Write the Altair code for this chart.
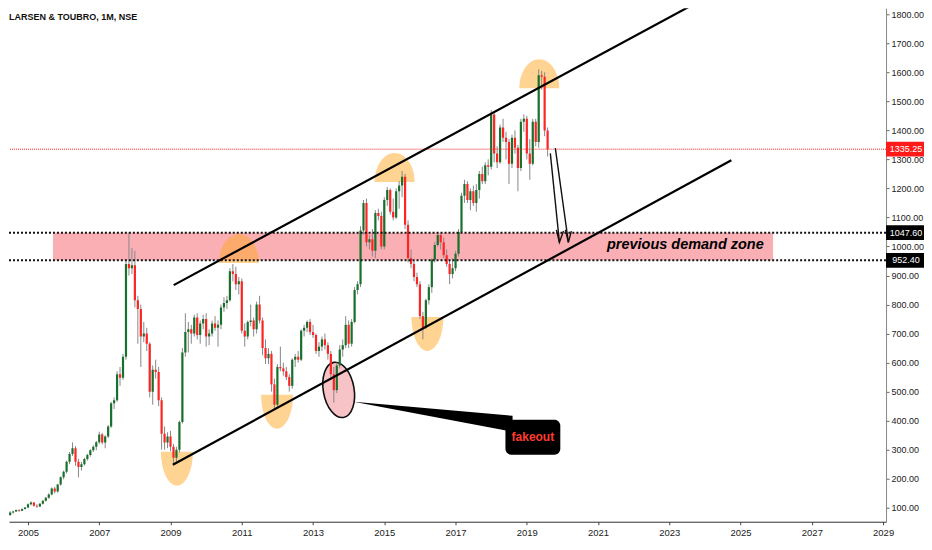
import altair as alt
import pandas as pd
import numpy as np

TITLE = "LARSEN & TOUBRO, 1M, NSE"
FONT = "Liberation Sans"

# Monthly candles, Jun 2004 .. Aug 2019
opens = [
    45, 75, 84, 87, 92, 90, 96,
    101, 112, 118, 107, 104, 114, 124, 134, 146, 166, 156, 180,
    205, 224, 258, 285, 305, 258, 240, 250, 268, 282, 298, 310,
    326, 352, 325, 345, 380, 460, 470, 560, 548, 620, 940, 925,
    935, 815, 785, 690, 700, 665, 500, 575, 568, 470, 355, 325,
    345, 310, 272, 300, 395, 635, 705, 715, 700, 755, 695, 735,
    750, 690, 700, 735, 720, 730, 790, 805, 815, 915, 905, 870,
    880, 710, 690, 740, 745, 715, 800, 745, 650, 615, 630, 525,
    455, 585, 580, 570, 550, 520, 610, 620, 610, 710, 720, 740,
    705, 695, 640, 655, 680, 660, 630, 560, 505, 590, 645, 660,
    730, 665, 740, 850, 870, 1055, 1150, 1015, 1025, 985, 1115, 1105,
    1000, 1160, 1195, 1120, 1100, 1190, 1210, 1240, 1075, 960, 940, 895,
    870, 760, 720, 815, 860, 955, 1005, 1040, 1015, 970, 940, 905,
    925, 975, 1050, 1175, 1215, 1160, 1190, 1150, 1195, 1250, 1225, 1280,
    1275, 1455, 1320, 1290, 1410, 1375, 1360, 1285, 1375, 1340, 1270, 1430,
    1440, 1320, 1285, 1430, 1360, 1590, 1585, 1400,
]
highs = [
    80, 88, 90, 94, 95, 98, 103,
    115, 122, 120, 112, 116, 126, 137, 150, 170, 172, 182, 208,
    228, 262, 292, 325, 312, 268, 258, 272, 286, 302, 315, 330,
    362, 358, 350, 385, 465, 480, 570, 585, 630, 955, 1048, 995,
    985, 830, 800, 740, 720, 670, 590, 610, 585, 480, 380, 360,
    365, 320, 310, 400, 650, 770, 740, 730, 765, 770, 745, 765,
    770, 715, 745, 760, 745, 800, 825, 830, 925, 940, 930, 895,
    890, 735, 745, 800, 755, 810, 830, 755, 680, 650, 640, 545,
    595, 655, 600, 585, 560, 615, 630, 640, 715, 730, 745, 750,
    730, 700, 670, 690, 700, 670, 640, 585, 600, 660, 680, 760,
    745, 750, 860, 880, 1070, 1160, 1165, 1040, 1060, 1125, 1130, 1120,
    1170, 1205, 1200, 1165, 1200, 1225, 1260, 1250, 1090, 990, 950, 910,
    880, 775, 820, 870, 960, 1015, 1050, 1045, 1030, 990, 950, 960,
    985, 1060, 1185, 1230, 1225, 1200, 1210, 1215, 1260, 1275, 1290, 1300,
    1470, 1465, 1345, 1420, 1440, 1395, 1370, 1385, 1400, 1350, 1440, 1455,
    1450, 1370, 1440, 1440, 1610, 1605, 1600, 1410,
]
lows = [
    40, 72, 80, 85, 86, 88, 94,
    98, 108, 104, 100, 102, 111, 121, 131, 143, 150, 152, 176,
    198, 218, 250, 278, 245, 205, 228, 245, 262, 276, 292, 298,
    320, 318, 305, 340, 375, 440, 465, 520, 540, 610, 900, 905,
    790, 665, 585, 670, 640, 480, 455, 545, 450, 300, 300, 305,
    295, 250, 255, 290, 390, 620, 635, 665, 690, 680, 665, 715,
    655, 660, 690, 710, 655, 715, 775, 785, 810, 880, 850, 835,
    700, 655, 680, 725, 690, 700, 735, 625, 595, 595, 500, 440,
    445, 570, 555, 540, 500, 510, 585, 600, 605, 690, 705, 695,
    685, 630, 620, 640, 645, 610, 540, 462, 495, 580, 620, 650,
    650, 655, 735, 835, 860, 1040, 1000, 990, 965, 960, 1090, 990,
    990, 1140, 1110, 1090, 1095, 1130, 1170, 1060, 945, 925, 880, 860,
    750, 680, 715, 800, 840, 945, 1000, 990, 960, 930, 870, 890,
    915, 965, 1045, 1150, 1150, 1125, 1140, 1120, 1165, 1215, 1215, 1245,
    1265, 1290, 1270, 1285, 1360, 1300, 1215, 1270, 1320, 1190, 1260, 1395,
    1300, 1230, 1280, 1345, 1340, 1540, 1380, 1310,
]
closes = [
    75, 84, 87, 92, 90, 96, 101,
    112, 118, 107, 104, 114, 124, 134, 146, 166, 156, 180, 205,
    224, 258, 285, 305, 258, 240, 250, 268, 282, 298, 310, 326,
    352, 325, 345, 380, 460, 470, 560, 548, 620, 940, 925, 935,
    815, 785, 690, 700, 665, 500, 575, 568, 470, 355, 325, 345,
    310, 272, 300, 395, 635, 705, 715, 700, 755, 695, 735, 750,
    690, 700, 735, 720, 730, 790, 805, 815, 915, 905, 870, 880,
    710, 690, 740, 745, 715, 800, 745, 650, 615, 630, 525, 455,
    585, 580, 570, 550, 520, 610, 620, 610, 710, 720, 740, 705,
    695, 640, 655, 680, 660, 630, 560, 505, 590, 645, 660, 730,
    665, 740, 850, 870, 1055, 1150, 1015, 1025, 985, 1115, 1105, 1000,
    1160, 1195, 1120, 1100, 1190, 1210, 1240, 1075, 960, 940, 895, 870,
    760, 720, 815, 860, 955, 1005, 1040, 1015, 970, 940, 905, 925,
    975, 1050, 1175, 1215, 1160, 1190, 1150, 1195, 1250, 1225, 1280, 1275,
    1455, 1320, 1290, 1410, 1375, 1360, 1285, 1375, 1340, 1270, 1430, 1440,
    1320, 1285, 1430, 1360, 1590, 1585, 1400, 1335.25,
]

# Levels and annotations (data space: decimal year, price)
last_price = 1335.25
zone_top = 1047.6
zone_bottom = 952.4
zone_t = [2005.70, 2025.91]
year_ticks = [2005, 2007, 2009, 2011, 2013, 2015, 2017, 2019, 2021, 2023, 2025, 2027, 2029]
price_ticks = [100, 200, 300, 400, 500, 600, 700, 800, 900, 1000, 1100, 1200,
               1300, 1400, 1500, 1600, 1700, 1800]

channel_id = ["upper", "upper", "lower", "lower"]
channel_t = [2009.09, 2023.78, 2009.065, 2024.74]
channel_p = [867, 1841, 248, 1297]

bowl_t = [2009.18, 2011.99, 2016.21]
bowl_p = [293, 489, 757]
dome_t = [2010.92, 2015.29, 2019.35]
dome_p = [943, 1222, 1545]

fake_t = [2013.72]
fake_p = [506]
wedge_t = [2014.14, 2018.60]
wedge_top = [464.7, 416.6]
wedge_bot = [464.7, 361.5]
box_t = [2018.40, 2019.94]
box_p = [402.8, 282.4]
fake_label_t = [2019.17]
fake_label_p = [343]

arrow_id = ["a1", "a1", "h1", "h1", "h1", "a2", "a2", "h2", "h2", "h2"]
arrow_t = [2019.66, 2019.915, 2019.83, 2019.915, 2020.03,
           2019.80, 2020.167, 2020.083, 2020.167, 2020.25]
arrow_p = [1321, 1014, 1057, 1014, 1053,
           1339, 1014, 1057, 1014, 1053]

zone_label = "previous demand zone"
zone_label_t = [2023.45]
zone_label_p = [1005]

# ---------- frames ----------
months = pd.date_range("2004-06-01", periods=len(closes), freq="MS")
df = pd.DataFrame({"date": months, "open": opens, "high": highs, "low": lows, "close": closes})
df["t"] = df["date"].dt.year + (df["date"].dt.month - 1) / 12.0
df["dir"] = np.where(df["close"] >= df["open"], "up", "down")

W, H = 878, 514
TAGW = 38
xs = alt.Scale(domain=[2004.467, 2029.082], nice=False, zero=False)
ys = alt.Scale(domain=[51.8, 1820.6], nice=False, zero=False)
xaxis = alt.Axis(values=year_ticks, format="d", title=None, grid=False, tickSize=3,
                 labelFontSize=9.5, labelPadding=3, labelColor="#222", domainColor="#333",
                 tickColor="#444", labelOverlap=False, labelFlush=False)
yaxis = alt.Axis(orient="right", values=price_ticks, format=".2f", title=None, grid=False,
                 tickSize=3, labelFontSize=9, labelPadding=2, labelColor="#222",
                 domainColor="#888", tickColor="#666", labelOverlap=False)


def X(f):
    return alt.X(f, type="quantitative", scale=xs, axis=xaxis)


def Y(f):
    return alt.Y(f, type="quantitative", scale=ys, axis=yaxis)


zone_df = pd.DataFrame({"t0": [zone_t[0]], "t1": [zone_t[1]], "hi": [zone_top], "lo": [zone_bottom]})
zone = alt.Chart(zone_df).mark_rect(color="#f23645", opacity=0.4).encode(
    x=X("t0"), x2="t1", y=Y("hi"), y2="lo")

BOWL = "M -1 0 C -1 1.17 -0.55 2.12 0 2.12 C 0.55 2.12 1 1.17 1 0 Z"
DOME = "M -1 0 C -1 -0.8 -0.55 -1.45 0 -1.45 C 0.55 -1.45 1 -0.8 1 0 Z"
bowls = alt.Chart(pd.DataFrame({"t": bowl_t, "p": bowl_p})).mark_point(
    shape=BOWL, size=1024, filled=True, color="#ffa726", opacity=0.5, strokeWidth=0).encode(
    x=X("t"), y=Y("p"))
domes = alt.Chart(pd.DataFrame({"t": dome_t, "p": dome_p})).mark_point(
    shape=DOME, size=1600, filled=True, color="#ffa726", opacity=0.5, strokeWidth=0).encode(
    x=X("t"), y=Y("p"))

ELL = ("M -0.55 0 C -0.55 -0.552 -0.3 -1 0 -1 C 0.3 -1 0.55 -0.552 0.55 0 "
       "C 0.55 0.552 0.3 1 0 1 C -0.3 1 -0.55 0.552 -0.55 0 Z")
fake = alt.Chart(pd.DataFrame({"t": fake_t, "p": fake_p})).mark_point(
    shape=ELL, size=3136, filled=True, fill="#f8c3c6", stroke="#111", strokeWidth=1.6,
    opacity=1, angle=350).encode(x=X("t"), y=Y("p"))

colors = alt.Scale(domain=["up", "down"], range=["#17702b", "#ff2424"])
wicks = alt.Chart(df).mark_rule(color="#888", strokeWidth=1, clip=True).encode(
    x=X("t"), y=Y("low"), y2="high")
bodies = alt.Chart(df).mark_rule(strokeWidth=2.2, clip=True).encode(
    x=X("t"), y=Y("open"), y2="close",
    color=alt.Color("dir:N", scale=colors, legend=None))

lv = pd.DataFrame({"p": [zone_top, zone_bottom]})
dashed = alt.Chart(lv).mark_rule(color="#111", strokeWidth=2, strokeDash=[2, 2]).encode(y=Y("p"))
lastline = alt.Chart(pd.DataFrame({"p": [last_price]})).mark_rule(
    color="#ff1a1a", strokeWidth=1, strokeDash=[1, 1]).encode(y=Y("p"))

ch = pd.DataFrame({"id": channel_id, "t": channel_t, "p": channel_p})
channel = alt.Chart(ch).mark_line(color="#000", strokeWidth=2.2, clip=True).encode(
    x=X("t"), y=Y("p"), detail="id:N")

wedge = alt.Chart(pd.DataFrame({"t": wedge_t, "a": wedge_top, "b": wedge_bot})).mark_area(
    color="#000").encode(x=X("t"), y=Y("a"), y2="b")
box = alt.Chart(pd.DataFrame({"t0": [box_t[0]], "t1": [box_t[1]], "a": [box_p[0]], "b": [box_p[1]]})).mark_rect(
    color="#000", cornerRadius=6).encode(x=X("t0"), x2="t1", y=Y("a"), y2="b")
fake_txt = alt.Chart(pd.DataFrame({"t": fake_label_t, "p": fake_label_p, "s": ["fakeout"]})).mark_text(
    color="#ff3b30", fontSize=12, fontWeight="bold", font=FONT, align="center",
    baseline="middle").encode(x=X("t"), y=Y("p"), text="s:N")

arrows = alt.Chart(pd.DataFrame({"id": arrow_id, "t": arrow_t, "p": arrow_p,
                                 "o": list(range(len(arrow_id)))})).mark_line(
    color="#111", strokeWidth=1.4).encode(x=X("t"), y=Y("p"), detail="id:N", order="o:Q")

zone_txt = alt.Chart(pd.DataFrame({"t": zone_label_t, "p": zone_label_p, "s": [zone_label]})).mark_text(
    color="#000", fontSize=14.5, fontWeight="bold", fontStyle="italic", font=FONT,
    align="center", baseline="middle").encode(x=X("t"), y=Y("p"), text="s:N")

TAG = "M -1 -0.39 L 1 -0.39 L 1 0.39 L -1 0.39 Z"
last_df = pd.DataFrame({"p": [last_price], "s": ["1335.25"]})
lvl_df = pd.DataFrame({"p": [zone_top, zone_bottom], "s": ["1047.60", "952.40"]})
tag_last = alt.Chart(last_df).mark_point(shape=TAG, size=TAGW * TAGW, filled=True, opacity=1,
                                         color="#ff1a1a", strokeWidth=0).encode(
    x=alt.value(W + TAGW / 2), y=Y("p"))
tag_lvl = alt.Chart(lvl_df).mark_point(shape=TAG, size=TAGW * TAGW, filled=True, opacity=1,
                                       color="#000", strokeWidth=0).encode(
    x=alt.value(W + TAGW / 2), y=Y("p"))
txt_last = alt.Chart(last_df).mark_text(color="#fff", fontSize=9, font=FONT, align="center",
                                        baseline="middle").encode(
    x=alt.value(W + TAGW / 2 + 1), y=Y("p"), text="s:N")
txt_lvl = alt.Chart(lvl_df).mark_text(color="#fff", fontSize=9, font=FONT, align="center",
                                      baseline="middle").encode(
    x=alt.value(W + TAGW / 2 + 1), y=Y("p"), text="s:N")

title = alt.Chart(pd.DataFrame({"s": [TITLE]})).mark_text(
    fontSize=9, fontWeight="bold", font=FONT, color="#111", align="left",
    baseline="middle").encode(x=alt.value(0), y=alt.value(9), text="s:N")

chart = alt.layer(
    zone, bowls, domes, fake, wicks, bodies, dashed, lastline, channel,
    wedge, box, fake_txt, arrows, zone_txt, tag_last, tag_lvl, txt_last, txt_lvl, title
).properties(
    width=W, height=H, padding={"left": 0, "top": 0, "right": 0, "bottom": 0}
).configure_view(stroke=None).configure_axis(labelFont=FONT)

chart.save("out.html", embed_options={"renderer": "svg", "actions": False})
